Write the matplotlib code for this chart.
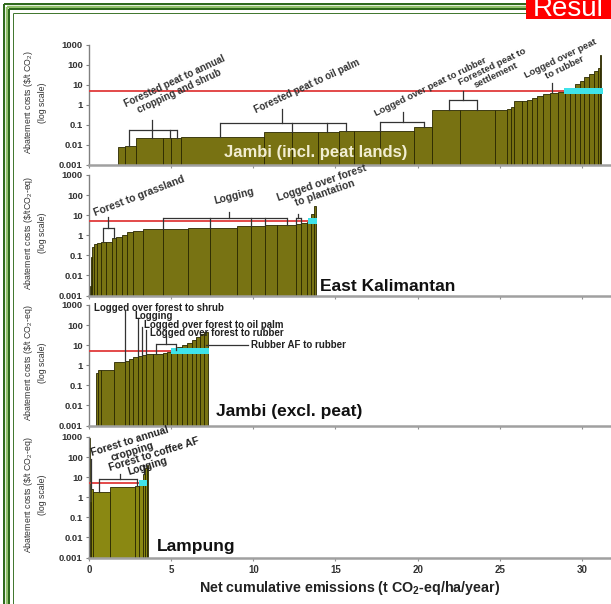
import matplotlib
matplotlib.use('Agg')
import matplotlib.pyplot as plt
from matplotlib.lines import Line2D
from matplotlib.patches import Rectangle
import numpy as np

plt.rcParams['font.family'] = ['Liberation Sans', 'DejaVu Sans']
plt.rcParams['mathtext.fontset'] = 'custom'
plt.rcParams['mathtext.rm'] = 'Liberation Sans'
plt.rcParams['mathtext.bf'] = 'Liberation Sans:bold'
plt.rcParams['mathtext.it'] = 'Liberation Sans:italic'

W, H = 611, 604

# ---------------- data ----------------
# cumulative-emission bar edges (t CO2-eq/ha/yr) and abatement costs ($/t CO2-eq)
jambi_peat_edges = [1.79, 2.17, 2.86, 4.48, 5.0, 5.62, 10.67, 12.33, 13.95, 15.24, 16.14,
                    17.69, 19.76, 20.9, 22.57, 24.7, 25.43, 25.67, 25.86, 26.38, 26.67,
                    26.98, 27.29, 27.62, 28.05, 28.52, 28.95, 29.29, 29.57, 29.86, 30.14,
                    30.43, 30.71, 30.95, 31.1, 31.16]
jambi_peat_costs = [0.008, 0.009, 0.021, 0.021, 0.022, 0.025, 0.042, 0.042, 0.045, 0.048,
                    0.05, 0.052, 0.08, 0.55, 0.55, 0.56, 0.6, 0.8, 1.5, 1.6, 1.8, 2.2,
                    2.8, 3.3, 3.8, 4.2, 4.6, 7, 11, 16, 24, 35, 50, 65, 300]

ekal_edges = [0.07, 0.14, 0.21, 0.31, 0.48, 0.71, 1.02, 1.38, 1.67, 1.98, 2.29, 2.69, 3.29,
              4.48, 6.02, 7.38, 9.0, 9.86, 10.71, 11.43, 12.57, 12.93, 13.29, 13.52, 13.67,
              13.81]
ekal_costs = [0.003, 0.08, 0.25, 0.35, 0.42, 0.45, 0.48, 0.7, 0.8, 1.0, 1.5, 1.7, 2.1, 2.1,
              2.4, 2.4, 3.0, 3.0, 3.2, 3.4, 3.8, 4.2, 4.6, 12, 30]

jambi_min_edges = [0.43, 0.57, 0.71, 1.55, 2.21, 2.45, 2.69, 3.0, 3.24, 3.48, 3.88, 4.48,
                   4.76, 5.02, 5.38, 5.67, 5.95, 6.24, 6.5, 6.76, 7.02, 7.26]
jambi_min_costs = [0.42, 0.55, 0.6, 1.5, 1.6, 2.0, 2.5, 3.0, 3.3, 3.6, 3.8, 4.2, 4.6, 6, 8,
                   10, 13, 18, 25, 35, 45]

lampung_edges = [0.0, 0.04, 0.08, 0.12, 0.26, 1.28, 2.8, 3.06, 3.31, 3.42, 3.5, 3.6]
lampung_costs = [900, 0.02, 0.6, 2.6, 1.9, 3.2, 3.5, 4.5, 15, 30, 40]

panel_names = ["Jambi (incl. peat lands)", "East Kalimantan", "Jambi (excl. peat)", "Lampung"]
threshold_price = 5.0
red_line_end = [31.2, 13.45, 5.05, 3.15]
cyan_span = [(28.9, 31.3), (13.3, 13.85), (5.02, 7.33), (3.05, 3.5)]

ylabels = [r"Abatement costs (\$/t CO$_2$)" + "\n(log scale)",
           r"Abatement costs (\$/tCO$_2$-eq)" + "\n(log scale)",
           r"Abatement costs (\$/t CO$_2$-eq)" + "\n(log scale)",
           r"Abatement costs (\$/t CO$_2$-eq)" + "\n(log scale)"]
yticks = [0.001, 0.01, 0.1, 1, 10, 100, 1000]
yticklabels = ["0.001", "0.01", "0.1", "1", "10", "100", "1000"]
xticks = [0, 5, 10, 15, 20, 25, 30]

# ---------------- figure ----------------
fig = plt.figure(figsize=(W / 100, H / 100), dpi=100)

def px2fig(x, y):
    return x / W, 1 - y / H

panel_px = [(44.5, 165.0), (175.0, 295.5), (305.0, 425.5), (437.0, 557.5)]
axes = []
for top, bot in panel_px:
    l = 89 / W
    b = 1 - bot / H
    h = (bot - top) / H
    ax = fig.add_axes([l, b, 1 - l, h])
    axes.append(ax)

edges_all = [jambi_peat_edges, ekal_edges, jambi_min_edges, lampung_edges]
costs_all = [jambi_peat_costs, ekal_costs, jambi_min_costs, lampung_costs]
bar_colors = ['#787212', '#787313', '#797413', '#8a8812']

for i, ax in enumerate(axes):
    e = np.array(edges_all[i])
    c = np.array(costs_all[i])
    ax.bar(e[:-1], c - 0.001, width=np.diff(e), bottom=0.001, align='edge',
           color=bar_colors[i], edgecolor='#2a2800', linewidth=0.6, zorder=2)
    ax.set_yscale('log')
    ax.set_ylim(0.001, 1000)
    ax.set_xlim(0, 31.77)
    ax.set_yticks(yticks)
    ax.set_yticklabels(yticklabels, fontsize=6.8, fontweight='bold', color='#333333')
    ax.minorticks_off()
    ax.set_xticks(xticks)
    ax.tick_params(axis='y', length=2.5, width=0.8, color='#808080', pad=2)
    ax.tick_params(axis='x', length=2.5, width=0.8, color='#909090', pad=3)
    for s in ['top', 'right']:
        ax.spines[s].set_visible(False)
    ax.spines['left'].set_color('#808080')
    ax.spines['left'].set_linewidth(1.0)
    ax.spines['bottom'].set_color('#a0a0a0')
    ax.spines['bottom'].set_linewidth(1.8)
    ax.set_ylabel(ylabels[i], fontsize=6.3, color='#333333', linespacing=1.5)
    ax.yaxis.set_label_coords(-0.08, 0.52)
    if i < 3:
        ax.set_xticklabels([])
    else:
        ax.set_xticklabels([str(t) for t in xticks], fontsize=7, fontweight='bold',
                           color='#333333')
        ax.set_xlabel(r"Net cumulative emissions (t CO$_\mathbf{2}$-eq/ha/year)",
                      fontsize=10.3, fontweight='bold', color='#222222', labelpad=3)
    # threshold line
    ax.plot([0, red_line_end[i]], [threshold_price, threshold_price], color='#e03a3a',
            lw=1.3, zorder=4)
    # cyan segment
    x0, x1 = cyan_span[i]
    ax.add_patch(Rectangle((x0, 3.5), x1 - x0, 7.2 - 3.5, facecolor='#3fe3ea',
                           edgecolor='none', zorder=5))

LC = '#333333'

def bracket(ax, x0, x1, y, feet, stem_x=None, stem_top=None):
    ax.plot([x0, x1], [y, y], color=LC, lw=0.9, zorder=6, solid_capstyle='butt')
    for fx, fy in feet:
        ax.plot([fx, fx], [fy, y], color=LC, lw=0.9, zorder=6)
    if stem_x is not None:
        ax.plot([stem_x, stem_x], [y, stem_top], color=LC, lw=0.9, zorder=6)

def vline(ax, x, y0, y1, color=LC):
    ax.plot([x, x], [y0, y1], color=color, lw=0.9, zorder=6)

def rlabel(ax, x, y, s, rot, color='#333333', size=7.0):
    ax.text(x, y, s, rotation=rot, rotation_mode='anchor', ha='left', va='bottom',
            fontsize=size, fontweight='bold', color=color, multialignment='center',
            linespacing=1.1, zorder=7)

# panel 1 annotations
a = axes[0]
bracket(a, 2.45, 5.33, 0.055, [(2.45, 0.009), (3.83, 0.021), (4.93, 0.021), (5.33, 0.021)],
        3.83, 0.18)
bracket(a, 7.95, 15.67, 0.12, [(7.95, 0.025), (12.33, 0.042), (14.48, 0.045), (15.67, 0.048)],
        11.76, 0.63)
bracket(a, 17.7, 20.4, 0.14, [(17.7, 0.052), (20.4, 0.08)], 19.1, 0.46)
bracket(a, 21.9, 23.6, 1.8, [(21.9, 0.55), (23.6, 0.55)], 22.76, 4.7)
vline(a, 28.2, 4.2, 12)
rlabel(a, 2.6, 0.2, "Forested peat to annual\ncropping and shrub", 25)
rlabel(a, 10.2, 0.3, "Forested peat to oil palm", 25)
rlabel(a, 17.5, 0.22, "Logged over peat to rubber", 26, size=6.8)
rlabel(a, 22.9, 2.8, "Forested peat to\nsettlement", 26, size=6.8)
rlabel(a, 26.9, 6.0, "Logged over peat\nto rubber", 26, size=6.8)
a.text(8.2, 0.004, panel_names[0], fontsize=12, fontweight='bold', color='#f2eed2',
       ha='left', va='center', zorder=7)

# panel 2 annotations
a = axes[1]
bracket(a, 0.86, 1.52, 2.4, [(0.86, 0.45), (1.52, 0.7)], 1.14, 8)
bracket(a, 4.48, 12.05, 7.4, [(4.48, 2.1), (7.38, 2.4), (9.86, 3.0), (10.71, 3.2), (12.05, 3.4)],
        8.52, 15)
bracket(a, 12.6, 12.9, 7.4, [(12.6, 3.8), (12.9, 4.2)], 12.75, 11)
rlabel(a, 0.45, 7.0, "Forest to grassland", 21, size=7.5)
rlabel(a, 7.7, 30, "Logging", 14, size=7.5)
rlabel(a, 11.75, 12.5, "Logged over forest\nto plantation", 19, size=7.5)
a.text(14.06, 0.0028, panel_names[1], fontsize=12.5, fontweight='bold', color='#111111',
       ha='left', va='center', zorder=7)

# panel 3 annotations
a = axes[2]
hk = dict(fontsize=7.0, fontweight='bold', color='#222222', ha='left', va='center', zorder=7)
a.text(0.3, 708, "Logged over forest to shrub", **hk)
a.text(2.75, 275, "Logging", **hk)
a.text(3.33, 105, "Logged over forest to oil palm", **hk)
a.text(3.71, 41, "Logged over forest to rubber", **hk)
a.text(9.85, 10, "Rubber AF to rubber", **hk)
vline(a, 2.2, 520, 1.55)
vline(a, 2.98, 210, 3.0)
vline(a, 3.22, 80, 3.3)
vline(a, 3.46, 60, 3.6)
bracket(a, 4.05, 5.3, 12, [(4.05, 3.8), (5.3, 6)], 4.67, 28)
a.plot([7.15, 9.7], [10, 10], color=LC, lw=0.9, zorder=6)
a.text(7.75, 0.005, panel_names[2], fontsize=12.5, fontweight='bold', color='#111111',
       ha='left', va='center', zorder=7)

# panel 4 annotations
a = axes[3]
vline(a, 0.14, 80, 2.6)
bracket(a, 0.62, 2.93, 8.5, [(0.62, 1.9), (2.93, 3.5)], 1.86, 14)
vline(a, 3.33, 40, 15)
rlabel(a, 0.38, 28, "Forest to annual\ncropping", 17, color='#222222', size=7.5)
rlabel(a, 1.3, 17, "Forest to coffee AF", 17, color='#222222', size=7.5)
rlabel(a, 2.45, 10.5, "Logging", 17, color='#222222', size=7.5)
a.text(4.15, 0.0035, panel_names[3], fontsize=12.5, fontweight='bold', color='#111111',
       ha='left', va='center', zorder=7)

# ---------------- decorative frame ----------------
DG, LG = '#2f6a1c', '#93c26c'
frame = [(4.0, 2.0, DG), (6.5, 2.5, LG), (9.0, 2.0, DG), (12.5, 0.9, DG)]
for off, lwpx, col in frame:
    x0, y0 = px2fig(off, off)
    x1, _ = px2fig(526, off)
    _, yb = px2fig(off, H)
    fig.add_artist(Line2D([x0, x0], [y0, yb], transform=fig.transFigure, color=col,
                          lw=lwpx * 0.72, solid_capstyle='butt'))
    fig.add_artist(Line2D([x0, x1], [y0, y0], transform=fig.transFigure, color=col,
                          lw=lwpx * 0.72, solid_capstyle='butt'))

rx, ry = px2fig(526, 19)
fig.add_artist(Rectangle((rx, ry), (W - 526) / W, 19 / H, transform=fig.transFigure,
                         facecolor='#ff0000', edgecolor='none'))
tx, ty = px2fig(533, 16)
fig.text(tx, ty, "Resul", fontsize=20, color='white', ha='left', va='baseline')

fig.savefig('out.png', dpi=100)
